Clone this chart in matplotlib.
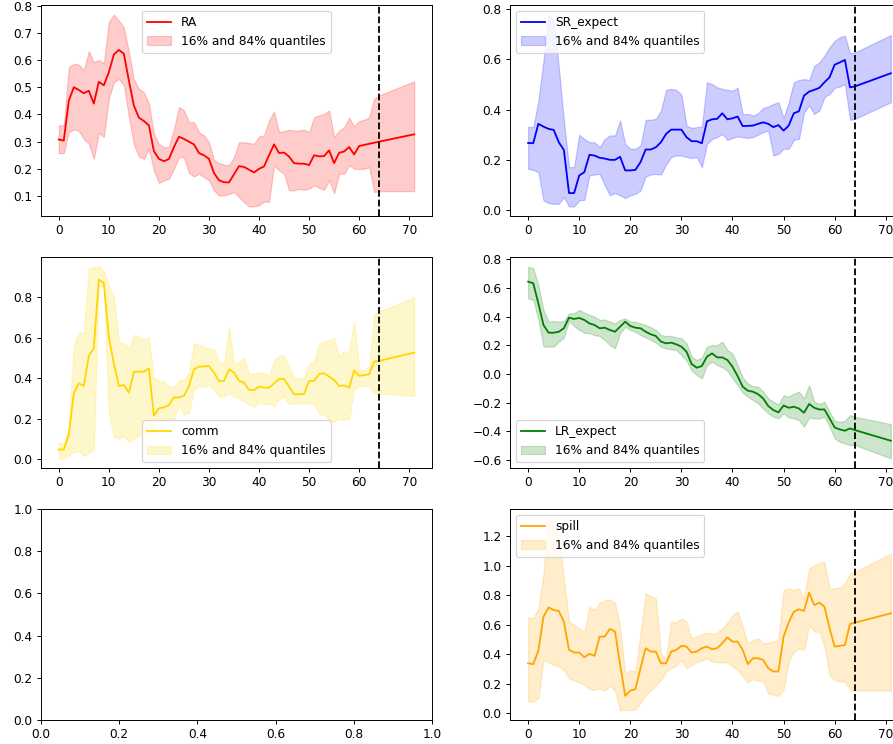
import matplotlib
matplotlib.use("Agg")
import matplotlib.pyplot as plt

# Time index: observed periods 0..64 plus the horizon end point
periods = list(range(65)) + [71]
split_period = 64

ra_mid = [0.308, 0.304, 0.45, 0.50, 0.49, 0.478, 0.487, 0.44, 0.52, 0.507,
          0.555, 0.62, 0.637, 0.623, 0.525, 0.433, 0.388, 0.376, 0.36, 0.265,
          0.237, 0.228, 0.236, 0.28, 0.318, 0.31, 0.30, 0.29, 0.258, 0.25,
          0.237, 0.185, 0.158, 0.151, 0.15, 0.18, 0.21, 0.207, 0.197, 0.187,
          0.2, 0.209, 0.25, 0.29, 0.258, 0.26, 0.245, 0.221, 0.219, 0.219,
          0.214, 0.25, 0.246, 0.247, 0.268, 0.221, 0.259, 0.264, 0.28, 0.253,
          0.284, 0.288, 0.292, 0.296, 0.300, 0.327]
ra_hi = [0.36, 0.36, 0.574, 0.586, 0.584, 0.562, 0.633, 0.592, 0.6, 0.589,
         0.74, 0.767, 0.745, 0.72, 0.63, 0.53, 0.494, 0.482, 0.44, 0.329,
         0.292, 0.28, 0.28, 0.347, 0.427, 0.415, 0.372, 0.372, 0.335, 0.323,
         0.298, 0.233, 0.221, 0.216, 0.213, 0.243, 0.298, 0.298, 0.295, 0.292,
         0.319, 0.323, 0.378, 0.411, 0.335, 0.339, 0.344, 0.341, 0.341, 0.344,
         0.335, 0.39, 0.396, 0.402, 0.415, 0.317, 0.341, 0.353, 0.388, 0.356,
         0.376, 0.38, 0.39, 0.458, 0.47, 0.522]
ra_lo = [0.258, 0.258, 0.335, 0.345, 0.34, 0.31, 0.292, 0.237, 0.332, 0.317,
         0.458, 0.519, 0.53, 0.507, 0.39, 0.29, 0.246, 0.237, 0.274, 0.194,
         0.148, 0.158, 0.164, 0.2, 0.243, 0.243, 0.185, 0.172, 0.182, 0.17,
         0.158, 0.121, 0.102, 0.102, 0.108, 0.115, 0.096, 0.078, 0.062, 0.062,
         0.066, 0.08, 0.078, 0.213, 0.194, 0.182, 0.121, 0.121, 0.127, 0.123,
         0.127, 0.139, 0.13, 0.123, 0.158, 0.11, 0.182, 0.182, 0.213, 0.2,
         0.2, 0.2, 0.206, 0.115, 0.118, 0.118]

sr_mid = [0.268, 0.267, 0.344, 0.333, 0.324, 0.32, 0.271, 0.24, 0.069, 0.069,
          0.139, 0.152, 0.221, 0.218, 0.209, 0.206, 0.201, 0.201, 0.213, 0.159,
          0.159, 0.161, 0.192, 0.242, 0.242, 0.251, 0.271, 0.304, 0.321, 0.321,
          0.321, 0.291, 0.275, 0.275, 0.267, 0.354, 0.362, 0.364, 0.386, 0.362,
          0.366, 0.373, 0.335, 0.336, 0.337, 0.344, 0.35, 0.344, 0.331, 0.339,
          0.317, 0.337, 0.386, 0.394, 0.456, 0.472, 0.479, 0.487, 0.509, 0.529,
          0.579, 0.588, 0.598, 0.489, 0.493, 0.545]
sr_hi = [0.333, 0.331, 0.436, 0.595, 0.778, 0.754, 0.569, 0.357, 0.172, 0.172,
         0.301, 0.284, 0.271, 0.271, 0.251, 0.284, 0.298, 0.298, 0.357, 0.264,
         0.245, 0.245, 0.258, 0.36, 0.36, 0.364, 0.397, 0.479, 0.483, 0.479,
         0.46, 0.337, 0.328, 0.331, 0.333, 0.509, 0.502, 0.489, 0.483, 0.479,
         0.476, 0.487, 0.383, 0.383, 0.377, 0.386, 0.407, 0.413, 0.423, 0.43,
         0.368, 0.43, 0.509, 0.518, 0.522, 0.518, 0.575, 0.588, 0.615, 0.648,
         0.674, 0.688, 0.694, 0.624, 0.628, 0.697]
sr_lo = [0.165, 0.161, 0.152, 0.04, 0.029, 0.026, 0.026, 0.053, 0.016, 0.016,
         0.04, 0.042, 0.139, 0.143, 0.145, 0.099, 0.06, 0.069, 0.06, 0.049,
         0.06, 0.066, 0.079, 0.135, 0.143, 0.145, 0.143, 0.182, 0.212, 0.218,
         0.218, 0.212, 0.209, 0.212, 0.172, 0.264, 0.284, 0.291, 0.304, 0.28,
         0.288, 0.294, 0.291, 0.288, 0.291, 0.301, 0.311, 0.317, 0.218, 0.225,
         0.245, 0.245, 0.28, 0.284, 0.39, 0.417, 0.383, 0.397, 0.45, 0.463,
         0.487, 0.492, 0.502, 0.36, 0.364, 0.43]

comm_mid = [0.049, 0.049, 0.12, 0.326, 0.375, 0.362, 0.51, 0.548, 0.886, 0.872,
            0.602, 0.474, 0.362, 0.367, 0.329, 0.431, 0.433, 0.433, 0.449, 0.216,
            0.252, 0.257, 0.268, 0.306, 0.306, 0.313, 0.362, 0.444, 0.458, 0.458,
            0.461, 0.428, 0.387, 0.387, 0.444, 0.428, 0.388, 0.379, 0.342, 0.342,
            0.359, 0.354, 0.354, 0.375, 0.397, 0.397, 0.359, 0.321, 0.321, 0.323,
            0.387, 0.387, 0.421, 0.425, 0.408, 0.392, 0.362, 0.365, 0.354, 0.438,
            0.412, 0.416, 0.42, 0.482, 0.486, 0.527]
comm_hi = [0.082, 0.079, 0.161, 0.565, 0.626, 0.622, 0.943, 0.948, 0.951, 0.932,
           0.853, 0.803, 0.581, 0.573, 0.548, 0.614, 0.606, 0.593, 0.602, 0.4,
           0.388, 0.384, 0.359, 0.359, 0.388, 0.392, 0.428, 0.573, 0.565, 0.556,
           0.548, 0.543, 0.482, 0.474, 0.652, 0.471, 0.482, 0.499, 0.421, 0.425,
           0.428, 0.428, 0.408, 0.49, 0.51, 0.515, 0.458, 0.4, 0.403, 0.403,
           0.474, 0.482, 0.57, 0.581, 0.589, 0.598, 0.51, 0.532, 0.532, 0.68,
           0.441, 0.444, 0.458, 0.718, 0.729, 0.8]
comm_lo = [0.005, 0.005, 0.02, 0.038, 0.041, 0.016, 0.033, 0.049, 0.86, 0.85,
           0.227, 0.112, 0.104, 0.112, 0.087, 0.104, 0.12, 0.12, 0.11, 0.17,
           0.19, 0.19, 0.2, 0.2, 0.27, 0.22, 0.23, 0.346, 0.359, 0.359,
           0.367, 0.342, 0.309, 0.31, 0.326, 0.31, 0.301, 0.285, 0.273, 0.26,
           0.28, 0.273, 0.276, 0.26, 0.3, 0.31, 0.273, 0.276, 0.28, 0.276,
           0.28, 0.273, 0.227, 0.219, 0.194, 0.186, 0.2, 0.194, 0.2, 0.35,
           0.359, 0.362, 0.362, 0.322, 0.326, 0.313]

lr_mid = [0.644, 0.633, 0.493, 0.342, 0.288, 0.288, 0.295, 0.319, 0.393, 0.384,
          0.391, 0.377, 0.353, 0.342, 0.319, 0.323, 0.307, 0.295, 0.33, 0.365,
          0.335, 0.323, 0.319, 0.295, 0.277, 0.265, 0.226, 0.214, 0.219, 0.207,
          0.191, 0.156, 0.07, 0.044, 0.056, 0.121, 0.144, 0.116, 0.116, 0.098,
          0.051, -0.014, -0.088, -0.116, -0.123, -0.14, -0.17, -0.223, -0.251, -0.267,
          -0.219, -0.235, -0.228, -0.24, -0.27, -0.209, -0.235, -0.247, -0.247, -0.309,
          -0.372, -0.386, -0.395, -0.379, -0.391, -0.465]
lr_hi = [0.749, 0.737, 0.621, 0.447, 0.365, 0.37, 0.365, 0.37, 0.423, 0.423,
         0.447, 0.428, 0.412, 0.4, 0.377, 0.381, 0.365, 0.353, 0.377, 0.388,
         0.365, 0.365, 0.353, 0.342, 0.326, 0.307, 0.272, 0.265, 0.265, 0.256,
         0.249, 0.214, 0.121, 0.098, 0.116, 0.191, 0.202, 0.202, 0.226, 0.167,
         0.144, 0.063, -0.023, -0.065, -0.084, -0.088, -0.123, -0.17, -0.193, -0.212,
         -0.147, -0.158, -0.135, -0.123, -0.17, -0.077, -0.193, -0.209, -0.193, -0.263,
         -0.326, -0.333, -0.326, -0.286, -0.298, -0.349]
lr_lo = [0.528, 0.516, 0.377, 0.191, 0.191, 0.191, 0.226, 0.256, 0.372, 0.335,
         0.307, 0.288, 0.284, 0.272, 0.265, 0.237, 0.202, 0.179, 0.284, 0.33,
         0.307, 0.295, 0.272, 0.256, 0.237, 0.219, 0.191, 0.179, 0.172, 0.167,
         0.133, 0.093, 0.023, -0.007, -0.03, 0.063, 0.086, 0.063, 0.047, 0.023,
         -0.03, -0.077, -0.13, -0.158, -0.181, -0.205, -0.24, -0.274, -0.298, -0.309,
         -0.274, -0.302, -0.309, -0.321, -0.367, -0.302, -0.309, -0.309, -0.298, -0.367,
         -0.449, -0.472, -0.484, -0.495, -0.495, -0.588]

spill_mid = [0.338, 0.332, 0.424, 0.654, 0.717, 0.699, 0.693, 0.62, 0.429, 0.411,
             0.411, 0.379, 0.402, 0.388, 0.519, 0.519, 0.571, 0.553, 0.33, 0.117,
             0.153, 0.162, 0.305, 0.44, 0.417, 0.417, 0.338, 0.338, 0.417, 0.429,
             0.456, 0.451, 0.411, 0.417, 0.44, 0.451, 0.433, 0.44, 0.474, 0.514,
             0.485, 0.485, 0.429, 0.332, 0.372, 0.372, 0.361, 0.305, 0.282, 0.282,
             0.519, 0.614, 0.688, 0.704, 0.693, 0.817, 0.733, 0.749, 0.722, 0.575,
             0.451, 0.456, 0.462, 0.605, 0.614, 0.677]
spill_hi = [0.65, 0.643, 0.711, 0.947, 1.32, 1.263, 1.218, 0.914, 0.62, 0.598,
            0.575, 0.553, 0.722, 0.699, 0.749, 0.767, 0.771, 0.749, 0.587, 0.259,
            0.293, 0.282, 0.541, 0.812, 0.794, 0.778, 0.402, 0.372, 0.62, 0.614,
            0.643, 0.62, 0.508, 0.523, 0.537, 0.546, 0.537, 0.548, 0.575, 0.614,
            0.665, 0.688, 0.587, 0.469, 0.496, 0.508, 0.474, 0.478, 0.485, 0.501,
            0.835, 0.846, 0.835, 0.846, 0.778, 0.981, 1.004, 1.022, 1.026, 0.846,
            0.846, 0.853, 0.88, 0.947, 0.959, 1.083]
spill_lo = [0.079, 0.079, 0.102, 0.361, 0.343, 0.327, 0.316, 0.293, 0.237, 0.221,
            0.208, 0.192, 0.162, 0.158, 0.169, 0.151, 0.185, 0.153, 0.018, 0.023,
            0.018, 0.027, 0.068, 0.124, 0.153, 0.185, 0.226, 0.282, 0.305, 0.32,
            0.361, 0.305, 0.327, 0.345, 0.356, 0.372, 0.35, 0.345, 0.345, 0.343,
            0.316, 0.293, 0.248, 0.208, 0.23, 0.221, 0.214, 0.131, 0.124, 0.117,
            0.158, 0.35, 0.417, 0.44, 0.429, 0.598, 0.553, 0.553, 0.451, 0.259,
            0.226, 0.214, 0.214, 0.158, 0.153, 0.153]

DPI = 87.3
W, H = 893, 744
fig = plt.figure(figsize=(W / DPI, H / DPI), dpi=DPI)


def pixel_box(x0, x1, y_top, y_bot):
    """Axes rectangle from pixel edges (origin at top-left)."""
    return [x0 / W, 1 - y_bot / H, (x1 - x0) / W, (y_bot - y_top) / H]


left_cols = (41, 432)
right_cols = (510, 909)
rows = [(5, 216), (257, 468), (509, 720)]

panels = [
    ("RA", "red", ra_mid, ra_lo, ra_hi, "upper center", left_cols, rows[0]),
    ("SR_expect", "blue", sr_mid, sr_lo, sr_hi, "upper left", right_cols, rows[0]),
    ("comm", "gold", comm_mid, comm_lo, comm_hi, "lower center", left_cols, rows[1]),
    ("LR_expect", "green", lr_mid, lr_lo, lr_hi, "lower left", right_cols, rows[1]),
    ("spill", "orange", spill_mid, spill_lo, spill_hi, "upper left", right_cols, rows[2]),
]

for name, color, mid, lo, hi, loc, cols, row in panels:
    ax = fig.add_axes(pixel_box(cols[0], cols[1], row[0], row[1]))
    ax.plot(periods, mid, color=color, label=name)
    ax.fill_between(periods, lo, hi, color=color, alpha=0.2,
                    label="16% and 84% quantiles")
    ax.axvline(split_period, color="black", linestyle="--")
    ax.legend(loc=loc)

# Unused slot in the grid
fig.add_axes(pixel_box(left_cols[0], left_cols[1], rows[2][0], rows[2][1]))

fig.savefig("out.png", dpi=DPI)
